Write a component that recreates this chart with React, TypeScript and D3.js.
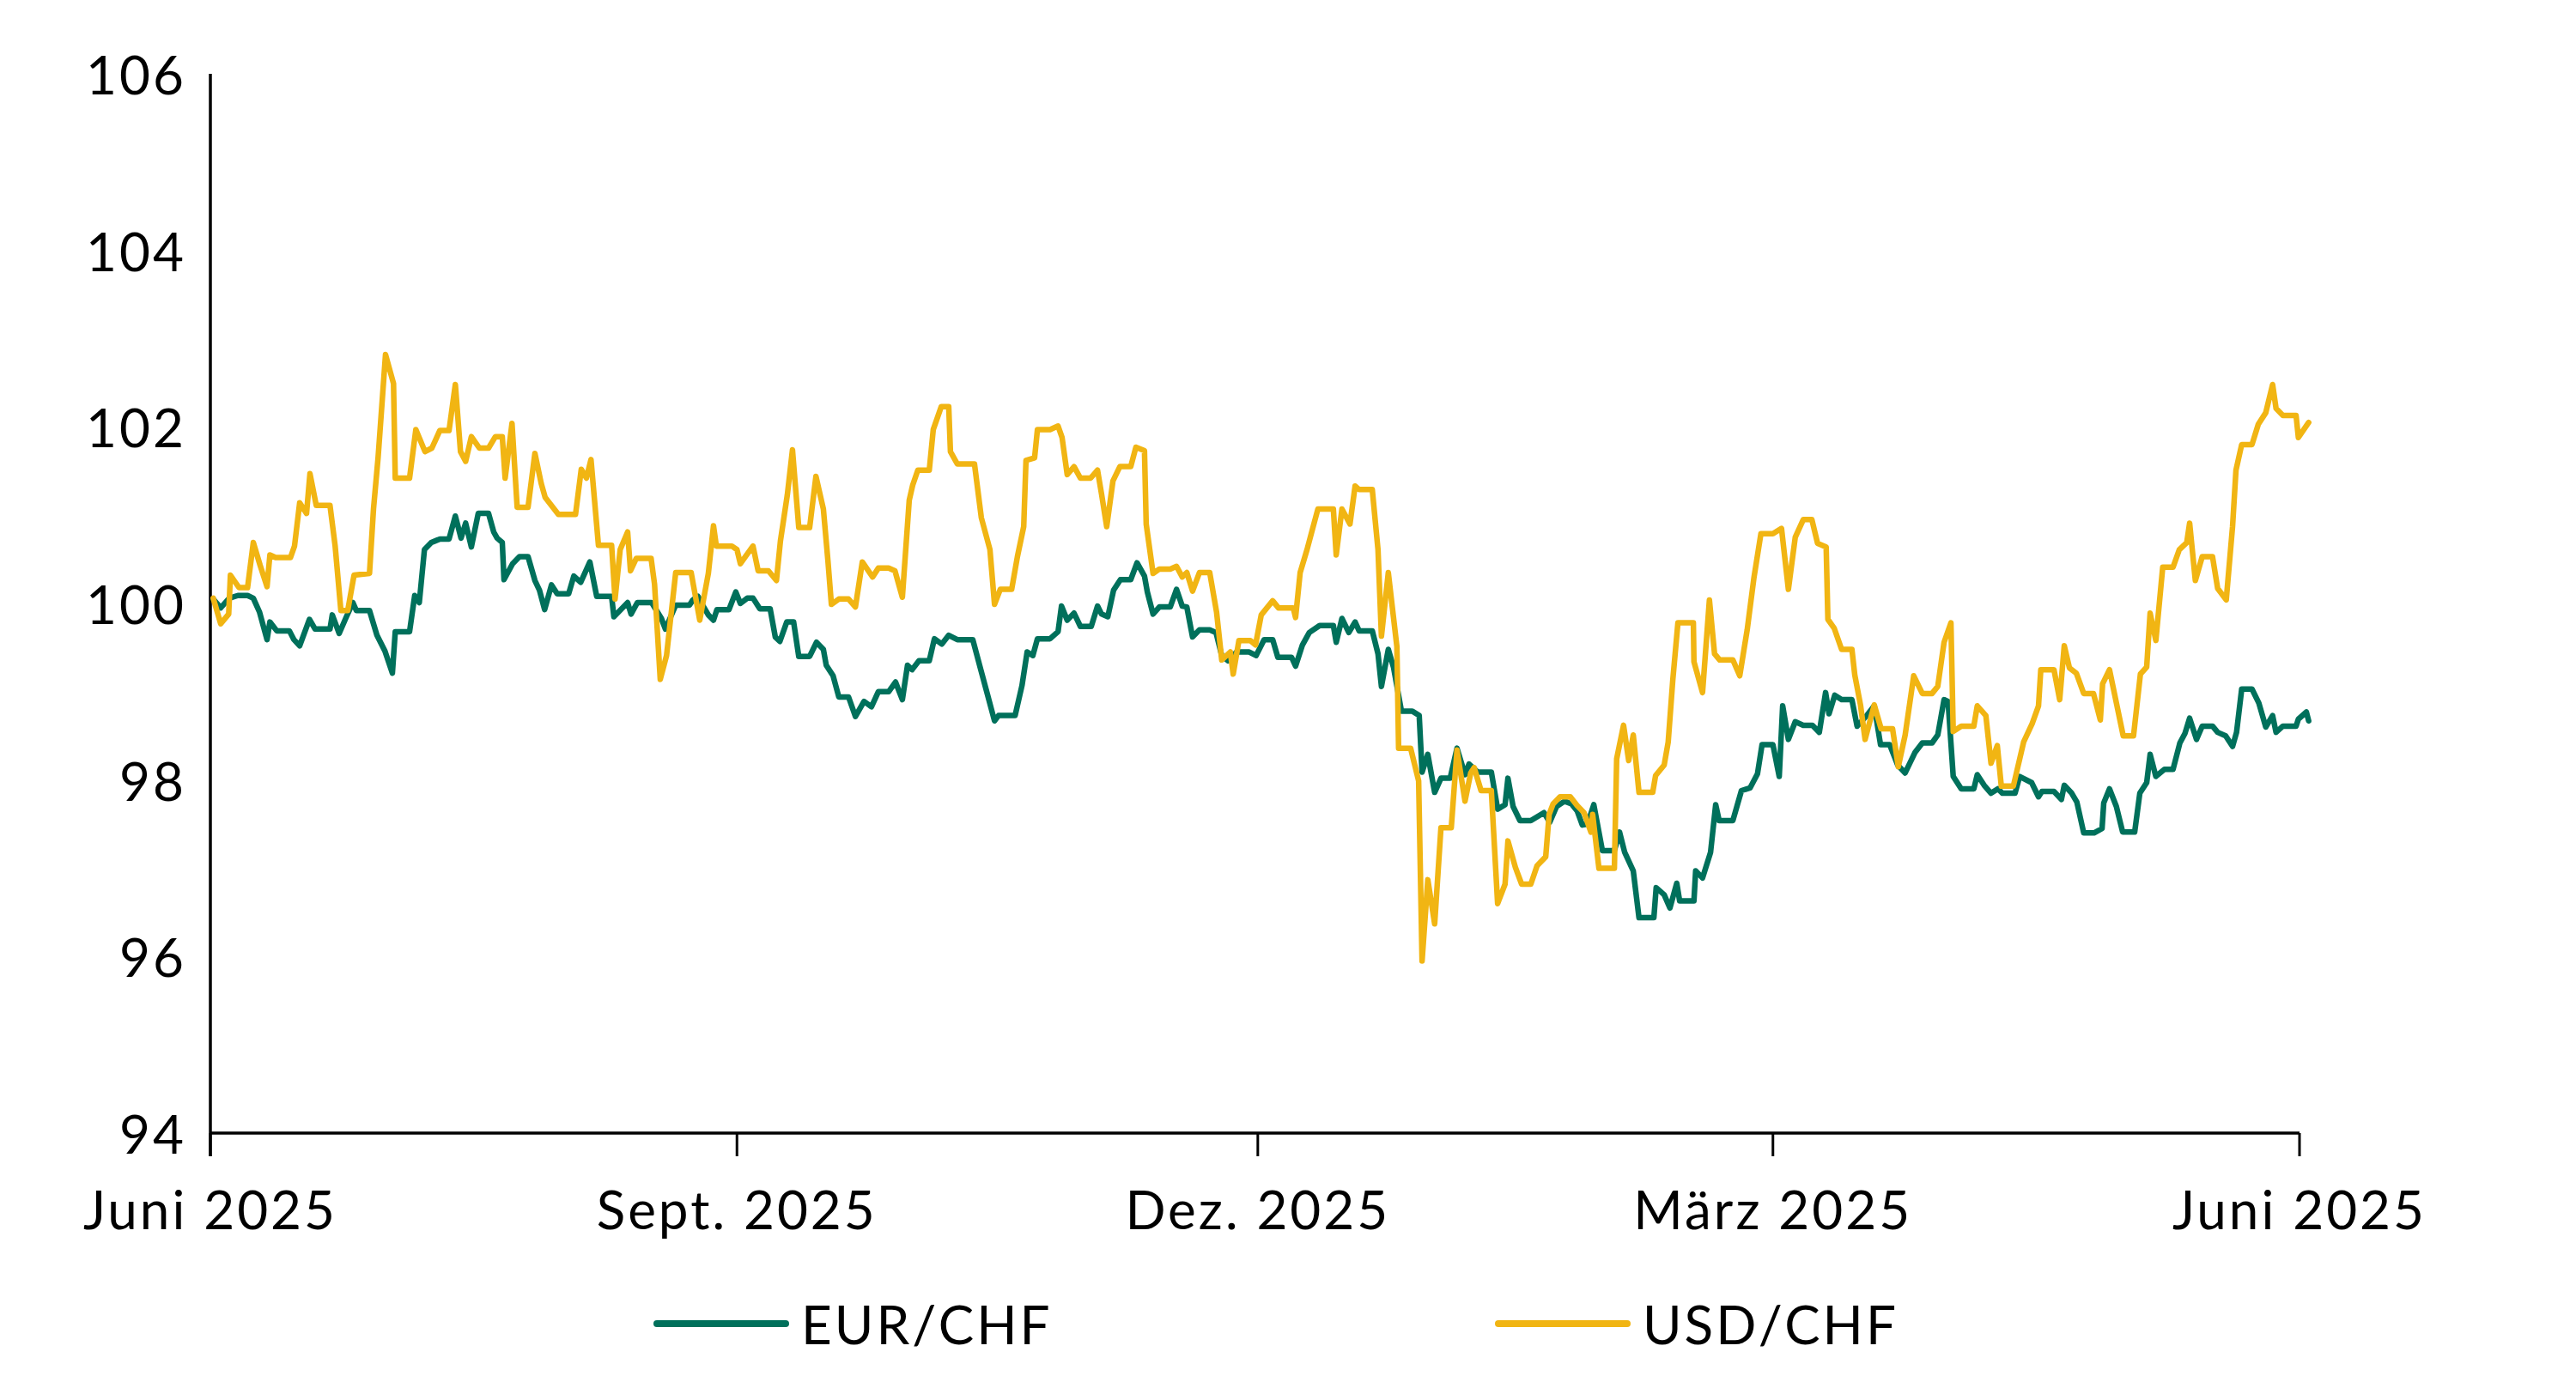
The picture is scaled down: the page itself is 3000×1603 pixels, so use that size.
import React from 'react';
import * as d3 from 'd3';

// ---- data (days since 1 June 2025, index value) ----
const yTicks = [94, 96, 98, 100, 102, 104, 106];
const xTickDates = ['2025-06-01', '2025-09-01', '2025-12-01', '2026-03-01', '2026-06-01'];
const xTickLabels = ['Juni 2025', 'Sept. 2025', 'Dez. 2025', 'März 2025', 'Juni 2025'];
const seriesNames = ['EUR/CHF', 'USD/CHF'];

const eurDays = [0.5,1.8,3.3,4.8,6.5,7.5,8.6,9.9,10.4,11.6,13.8,14.6,15.6,17.3,18.3,20.9,21.3,22.5,23.7,24.9,25.5,27.8,29.1,30.5,31.8,32.3,34.8,35.7,36.5,37.4,38.6,40.1,41.7,42.8,43.8,44.6,45.6,46.8,48.6,49.5,50.1,51.0,51.3,52.8,54.0,55.5,56.7,57.5,58.4,59.6,60.6,62.6,63.5,64.7,66.3,67.5,70.1,70.5,72.9,73.5,74.6,77.1,78.8,79.5,81.3,83.7,84.3,85.2,86.1,87.0,87.9,88.5,90.6,91.8,92.6,93.8,94.8,96.0,97.8,98.7,99.5,100.7,101.9,102.8,104.7,105.9,107.1,107.6,108.8,109.8,111.5,112.7,114.2,115.5,116.7,118.5,119.7,120.9,121.8,122.6,123.8,125.6,126.5,127.8,129.0,130.5,133.2,134.6,135.8,137.0,137.7,140.6,141.8,142.7,143.7,144.5,146.7,148.1,148.7,149.7,150.9,152.0,153.9,155.0,155.7,156.8,157.8,159.0,160.8,161.9,163.2,163.7,164.7,165.8,167.7,168.8,169.8,170.6,171.6,172.8,174.6,175.7,176.7,177.8,179.3,181.5,182.7,184.1,185.6,186.5,188.9,189.6,190.8,192.0,193.8,196.2,196.7,197.7,198.9,200.0,200.7,203.0,204.0,204.6,205.8,206.7,208.1,210.0,211.2,211.7,212.7,213.9,215.0,216.6,217.8,219.2,219.9,221.4,223.8,224.9,226.2,226.7,227.6,228.8,230.7,233.0,234.0,235.2,236.6,237.8,238.8,239.7,240.6,241.7,243.2,245.3,246.2,247.1,248.6,249.6,252.2,252.6,254.0,255.0,256.2,256.7,259.2,259.5,260.7,262.1,263.0,263.6,266.0,267.5,269.0,270.3,271.1,273.0,274.1,274.7,275.7,276.9,278.3,279.9,281.1,282.2,282.8,283.8,285.0,286.8,287.7,289.4,290.7,291.8,293.4,294.8,296.1,297.8,299.1,300.8,301.8,302.9,303.6,304.5,305.9,308.1,308.7,309.9,311.1,312.3,313.1,315.3,316.1,318.2,319.4,320.0,322.1,323.4,323.9,325.2,326.1,327.3,329.1,330.5,330.8,331.8,333.0,334.1,336.2,337.1,338.3,338.9,339.9,341.4,342.9,344.1,345.0,345.8,347.0,348.0,349.8,350.7,352.1,353.3,354.0,354.9,356.7,357.9,359.1,360.3,360.9,362.1,364.4,364.8,366.2,366.6];
const eurValues = [100.05,99.95,100.06,100.09,100.09,100.06,99.90,99.59,99.79,99.69,99.69,99.59,99.52,99.82,99.71,99.71,99.87,99.66,99.84,100.01,99.92,99.92,99.64,99.46,99.21,99.68,99.68,100.09,100.01,100.61,100.69,100.73,100.73,100.99,100.74,100.91,100.64,101.02,101.02,100.81,100.74,100.69,100.27,100.45,100.53,100.53,100.26,100.15,99.93,100.21,100.11,100.11,100.31,100.24,100.47,100.08,100.08,99.85,100.01,99.88,100.01,100.01,99.83,99.71,99.98,99.98,100.04,100.08,99.97,99.87,99.81,99.93,99.93,100.13,100.00,100.06,100.06,99.94,99.94,99.62,99.57,99.79,99.79,99.40,99.40,99.56,99.48,99.30,99.18,98.94,98.94,98.72,98.89,98.83,99.00,99.00,99.11,98.91,99.30,99.25,99.35,99.35,99.60,99.54,99.64,99.59,99.59,99.25,98.96,98.67,98.73,98.73,99.07,99.45,99.41,99.60,99.60,99.68,99.97,99.81,99.89,99.74,99.74,99.97,99.88,99.85,100.15,100.27,100.27,100.46,100.31,100.13,99.88,99.96,99.96,100.16,99.97,99.96,99.62,99.70,99.70,99.67,99.41,99.35,99.45,99.45,99.41,99.59,99.59,99.39,99.39,99.29,99.53,99.67,99.75,99.75,99.56,99.83,99.67,99.79,99.69,99.69,99.43,99.06,99.48,99.28,98.78,98.78,98.73,98.09,98.29,97.86,98.02,98.02,98.36,98.06,98.18,98.09,98.09,97.67,97.72,98.02,97.70,97.54,97.54,97.63,97.52,97.70,97.76,97.73,97.65,97.49,97.50,97.72,97.20,97.20,97.41,97.18,96.97,96.44,96.44,96.78,96.70,96.55,96.83,96.63,96.63,96.97,96.89,97.18,97.72,97.54,97.54,97.88,97.91,98.07,98.40,98.40,98.04,98.84,98.46,98.66,98.62,98.62,98.54,98.99,98.75,98.96,98.91,98.91,98.61,98.73,98.84,98.40,98.40,98.17,98.08,98.31,98.42,98.42,98.51,98.91,98.89,98.04,97.90,97.90,98.06,97.94,97.85,97.90,97.85,97.85,98.04,97.97,97.81,97.87,97.87,97.78,97.94,97.85,97.75,97.40,97.40,97.45,97.74,97.90,97.70,97.41,97.41,97.85,97.97,98.29,98.04,98.12,98.12,98.42,98.53,98.70,98.46,98.61,98.61,98.54,98.50,98.38,98.54,99.03,99.03,98.87,98.60,98.73,98.54,98.61,98.61,98.69,98.77,98.67];

const usdDays = [0.5,1.8,3.2,3.5,5.0,6.5,7.5,8.7,9.9,10.4,11.4,14.0,14.7,15.6,16.8,17.4,18.5,20.9,21.8,22.8,24.0,25.1,27.8,28.5,29.3,30.6,32.0,32.3,34.8,35.9,37.5,38.7,40.1,41.7,42.8,43.7,44.6,45.6,47.0,48.6,49.8,51.0,51.5,52.7,53.6,55.5,56.7,57.8,58.5,60.8,63.8,64.8,65.7,66.5,67.8,70.1,70.7,71.6,72.9,73.4,74.4,77.0,77.6,78.6,79.7,81.3,84.0,85.5,87.0,87.9,88.4,91.1,92.0,92.6,94.8,95.7,97.5,98.9,99.6,100.8,101.7,102.8,104.7,105.8,107.1,107.9,108.5,109.8,111.5,112.7,113.9,115.7,116.7,118.5,119.6,120.9,122.1,122.7,123.6,125.6,126.3,127.7,129.0,129.3,130.5,133.5,134.7,136.2,137.0,138.0,140.0,141.0,142.1,142.5,144.0,144.5,146.7,148.1,148.8,149.7,150.9,152.0,153.8,155.0,155.7,156.6,157.7,158.9,160.8,161.7,163.2,163.5,164.7,165.8,167.7,168.8,169.8,170.6,171.6,172.8,174.6,175.8,176.7,178.2,178.7,179.7,181.7,182.6,183.6,185.6,186.6,189.2,189.6,190.4,191.6,193.5,196.2,196.7,197.7,199.1,200.0,200.7,203.0,204.0,204.6,205.8,207.3,207.6,209.7,211.1,211.7,212.7,213.9,215.0,216.8,217.8,219.2,220.2,220.8,222.0,223.8,224.9,226.2,226.7,228.0,229.1,230.7,231.8,233.3,233.9,234.6,235.8,237.6,238.8,240.0,241.2,241.5,242.6,245.3,245.7,246.9,247.8,248.6,249.6,252.0,252.5,254.0,254.7,255.5,256.4,259.1,259.2,260.7,261.9,262.8,263.7,266.0,267.2,268.5,269.7,270.9,273.0,274.5,275.7,276.9,278.3,279.8,280.8,282.3,282.6,283.7,285.0,286.8,287.3,288.3,289.1,290.7,291.9,293.9,294.9,296.1,297.6,299.1,300.8,301.8,302.9,304.1,304.5,305.9,308.1,308.7,310.2,311.1,312.2,312.9,315.0,316.8,318.3,319.4,319.8,322.1,323.1,323.9,324.8,326.0,327.3,329.0,330.2,330.6,331.8,334.2,336.0,337.2,338.3,338.9,339.9,341.1,342.9,344.0,345.3,345.8,346.8,348.0,349.8,350.7,352.2,353.3,353.9,354.9,356.7,357.8,359.1,360.3,360.9,362.1,364.4,364.8,366.6];
const usdValues = [100.06,99.77,99.88,100.32,100.18,100.18,100.69,100.43,100.19,100.55,100.52,100.52,100.65,101.14,101.02,101.47,101.11,101.11,100.65,99.92,99.92,100.32,100.34,101.07,101.65,102.82,102.49,101.42,101.42,101.97,101.72,101.76,101.96,101.96,102.48,101.72,101.61,101.89,101.76,101.76,101.89,101.89,101.42,102.04,101.09,101.09,101.70,101.36,101.20,101.01,101.01,101.52,101.42,101.63,100.66,100.66,100.05,100.61,100.81,100.37,100.51,100.51,100.22,99.14,99.41,100.35,100.35,99.81,100.34,100.88,100.65,100.65,100.61,100.45,100.65,100.37,100.37,100.26,100.71,101.23,101.74,100.86,100.86,101.44,101.07,100.48,99.99,100.05,100.05,99.96,100.47,100.30,100.40,100.40,100.37,100.07,101.17,101.34,101.51,101.51,101.97,102.23,102.23,101.72,101.58,101.58,100.97,100.61,99.99,100.16,100.16,100.53,100.87,101.62,101.65,101.97,101.97,102.01,101.88,101.46,101.55,101.42,101.42,101.51,101.24,100.87,101.39,101.55,101.55,101.77,101.73,100.90,100.34,100.39,100.39,100.42,100.30,100.35,100.14,100.35,100.35,99.90,99.36,99.45,99.20,99.58,99.58,99.53,99.87,100.03,99.95,99.95,99.84,100.35,100.61,101.07,101.07,100.55,101.07,100.90,101.33,101.29,101.29,100.61,99.63,100.35,99.51,98.36,98.36,97.99,95.95,96.87,96.37,97.46,97.46,98.34,97.76,98.08,98.14,97.88,97.88,96.60,96.82,97.31,97.01,96.82,96.82,97.03,97.13,97.61,97.73,97.81,97.81,97.71,97.63,97.41,97.61,97.00,97.00,98.24,98.62,98.22,98.51,97.86,97.86,98.05,98.17,98.43,99.13,99.78,99.78,99.34,98.99,100.04,99.43,99.36,99.36,99.18,99.70,100.30,100.79,100.79,100.85,100.16,100.75,100.95,100.95,100.68,100.64,99.82,99.72,99.48,99.48,99.19,98.85,98.46,98.85,98.58,98.58,98.15,98.51,99.18,98.98,98.98,99.06,99.56,99.78,98.55,98.61,98.61,98.84,98.73,98.19,98.39,97.93,97.93,98.43,98.64,98.84,99.25,99.25,98.91,99.52,99.27,99.21,98.98,98.98,98.68,99.09,99.25,98.50,98.50,99.20,99.28,99.89,99.58,100.41,100.41,100.61,100.69,100.91,100.26,100.53,100.53,100.17,100.04,100.87,101.51,101.80,101.80,102.03,102.16,102.48,102.21,102.13,102.13,101.88,102.05];

const COLORS = ['#00705B', '#F1B513'];
const FONT = 'Lato, "Open Sans", sans-serif';

const W = 3000;
const H = 1603;
const M = { left: 245, right: 322, top: 86, bottom: 283 };

const START = Date.UTC(2025, 5, 1);
const dayToDate = (d: number) => new Date(START + d * 86400000);

export default function App() {
  const x = d3
    .scaleUtc()
    .domain([new Date(xTickDates[0] + 'T00:00:00Z'), new Date(xTickDates[xTickDates.length - 1] + 'T00:00:00Z')])
    .range([M.left, W - M.right]);
  const y = d3.scaleLinear().domain([94, 106]).range([H - M.bottom, M.top]);

  const line = d3
    .line<[number, number]>()
    .x((d) => x(dayToDate(d[0])))
    .y((d) => y(d[1]));

  const eur: [number, number][] = eurDays.map((d, i) => [d, eurValues[i]]);
  const usd: [number, number][] = usdDays.map((d, i) => [d, usdValues[i]]);

  const x0 = x.range()[0];
  const x1 = x.range()[1];
  const yBase = y(94);
  const fs = 62;
  const ls = 3;

  const legendY = 1542;
  const legendItems = [
    { name: seriesNames[0], color: COLORS[0], lx: 765 },
    { name: seriesNames[1], color: COLORS[1], lx: 1745 },
  ];

  return (
    <div style={{ position: 'absolute', left: 0, top: 0, width: W, height: H, background: '#fff' }}>
      <svg width={W} height={H} viewBox={`0 0 ${W} ${H}`} style={{ display: 'block' }}>
        <rect x={0} y={0} width={W} height={H} fill="#ffffff" />
        {/* y axis */}
        <line x1={x0} x2={x0} y1={y(106)} y2={yBase + 27} stroke="#000" strokeWidth={3.5} />
        {yTicks.map((t) => (
          <text
            key={t}
            x={x0 - 28}
            y={y(t)}
            textAnchor="end"
            dominantBaseline="central"
            fontFamily={FONT}
            fontSize={fs}
            letterSpacing={ls}
            fill="#000"
          >
            {t}
          </text>
        ))}
        {/* x axis */}
        <line x1={x0} x2={x1} y1={yBase} y2={yBase} stroke="#000" strokeWidth={3.5} />
        {xTickDates.map((d, i) => {
          const px = x(new Date(d + 'T00:00:00Z'));
          return (
            <g key={d}>
              <line x1={px} x2={px} y1={yBase} y2={yBase + 27} stroke="#000" strokeWidth={3} />
              <text
                x={px}
                y={yBase + 112}
                textAnchor="middle"
                fontFamily={FONT}
                fontSize={fs}
                letterSpacing={ls}
                fill="#000"
              >
                {xTickLabels[i]}
              </text>
            </g>
          );
        })}
        {/* series */}
        <path d={line(eur) || ''} fill="none" stroke={COLORS[0]} strokeWidth={6.5} strokeLinejoin="round" strokeLinecap="round" />
        <path d={line(usd) || ''} fill="none" stroke={COLORS[1]} strokeWidth={6.5} strokeLinejoin="round" strokeLinecap="round" />
        {/* legend */}
        {legendItems.map((it) => (
          <g key={it.name}>
            <line x1={it.lx} x2={it.lx + 150} y1={legendY} y2={legendY} stroke={it.color} strokeWidth={8} strokeLinecap="round" />
            <text x={it.lx + 168} y={legendY} dominantBaseline="central" fontFamily={FONT} fontSize={fs} letterSpacing={ls} fill="#000">
              {it.name}
            </text>
          </g>
        ))}
      </svg>
    </div>
  );
}
